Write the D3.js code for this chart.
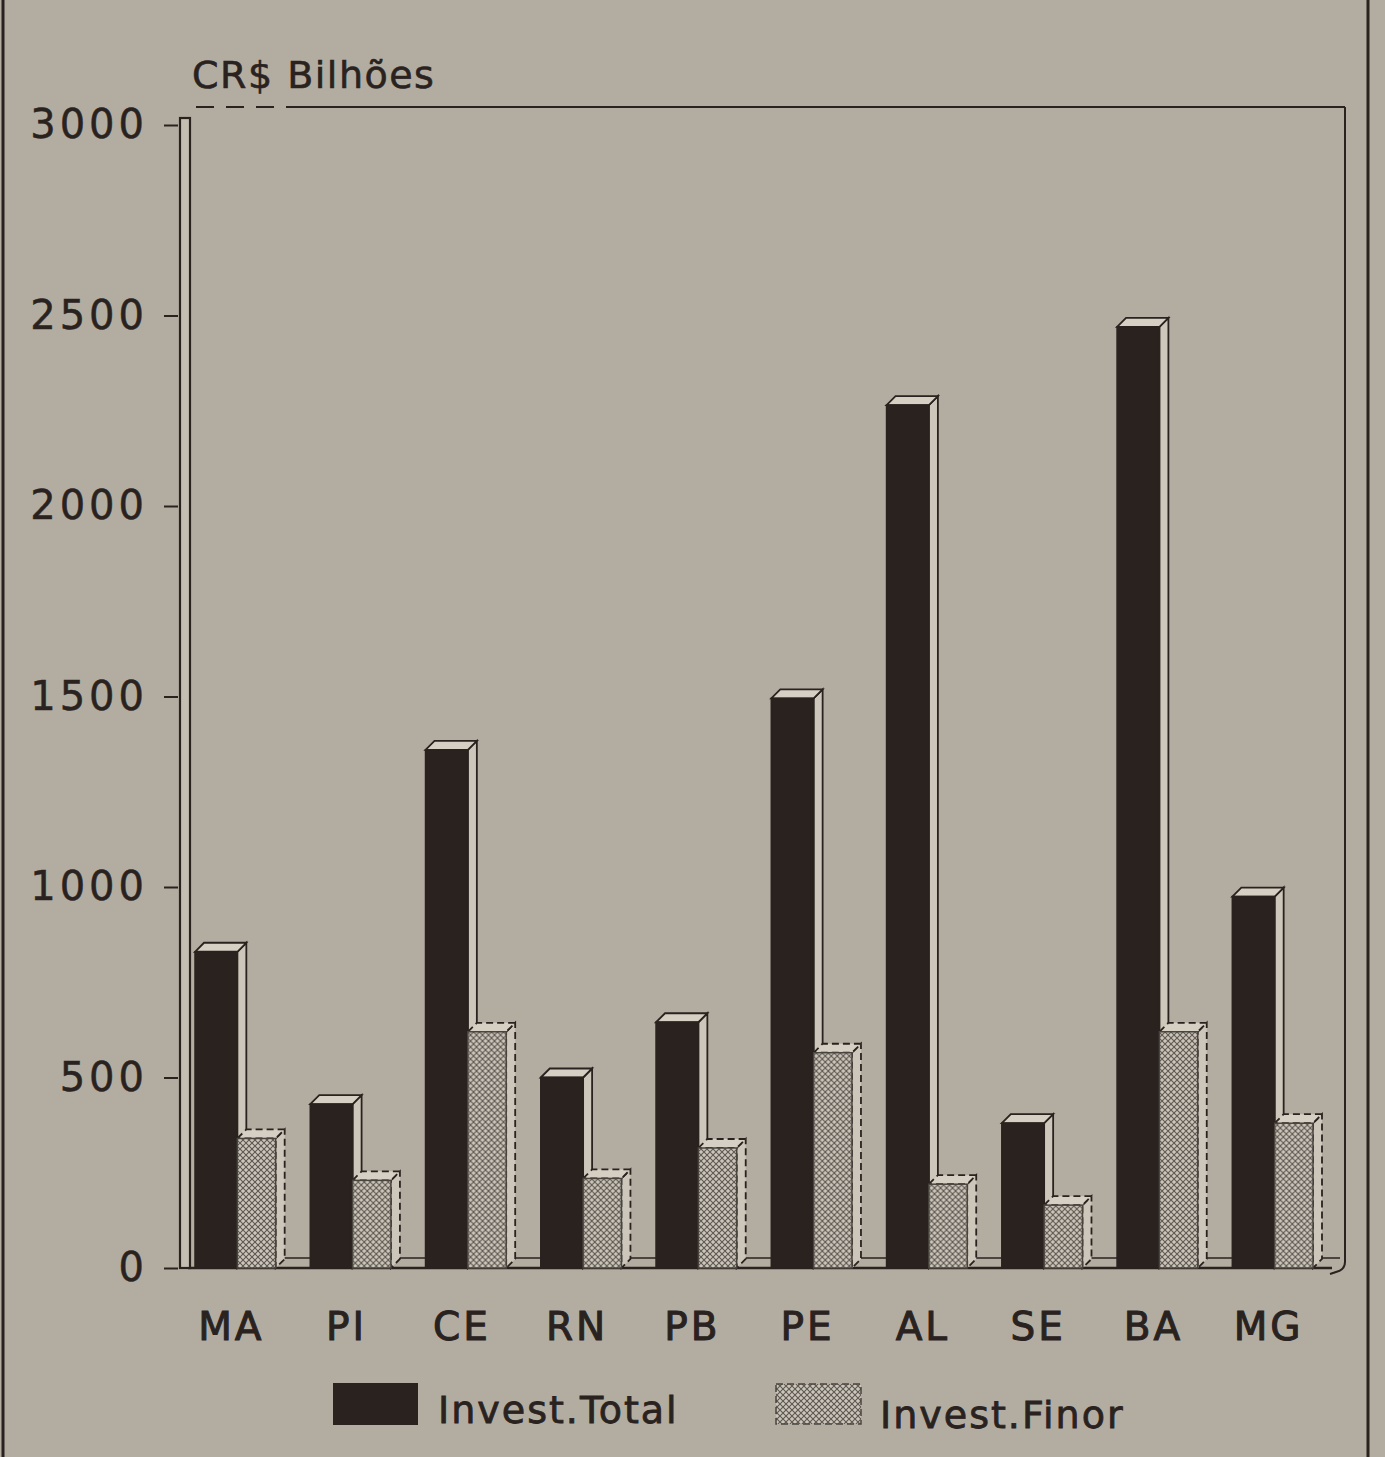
<!DOCTYPE html>
<html>
<head>
<meta charset="utf-8">
<script src="https://cdn.jsdelivr.net/npm/d3@7"></script>
<style>
    body { margin: 0; background: #b3ada1; }
    svg { display: block; }
</style>
</head>
<body>
<div id="chart"></div>
<script>
const categories = ["MA", "PI", "CE", "RN", "PB", "PE", "AL", "SE", "BA", "MG"];
const investTotal = [830, 430, 1360, 500, 645, 1495, 2265, 380, 2470, 975];
const investFinor = [340, 230, 620, 235, 315, 565, 220, 165, 620, 380];
const yTicks = [0, 500, 1000, 1500, 2000, 2500, 3000];
const seriesNames = ["Invest.Total", "Invest.Finor"];
const unitLabel = "CR$ Bilhões";

const width = 1385;
const height = 1457;
const ink = "#29221f";
const paper = "#b3ada1";
const depth = 9; // 3d offset of the bar tops

const svg = d3.select("#chart")
    .append("svg")
    .attr("width", width)
    .attr("height", height);

svg.append("rect")
    .attr("width", width)
    .attr("height", height)
    .attr("fill", paper);

// hatch for the Finor bars
const defs = svg.append("defs");
const pat = defs.append("pattern")
    .attr("id", "hatch")
    .attr("patternUnits", "userSpaceOnUse")
    .attr("width", 6)
    .attr("height", 6);
pat.append("rect").attr("width", 6).attr("height", 6).attr("fill", "#cbc5ba");
pat.append("path")
    .attr("d", "M0,0L6,6M6,0L0,6")
    .attr("stroke", "#5d5751")
    .attr("stroke-width", 1.1);

// page frame
svg.append("line").attr("x1", 3).attr("x2", 3).attr("y1", 0).attr("y2", height)
    .attr("stroke", ink).attr("stroke-width", 3);
svg.append("line").attr("x1", 1368).attr("x2", 1368).attr("y1", 0).attr("y2", height)
    .attr("stroke", ink).attr("stroke-width", 3);

const y = d3.scaleLinear()
    .domain([0, 3000])
    .range([1268, 125]);

const x = d3.scaleBand()
    .domain(categories)
    .range([195, 1313])
    .paddingInner(0.3)
    .paddingOuter(0);

const xSub = d3.scaleBand()
    .domain(seriesNames)
    .range([0, x.bandwidth()]);

// back wall and floor
const wall = svg.append("g").attr("fill", "none").attr("stroke", ink).attr("stroke-width", 2);
wall.append("line").attr("x1", 196).attr("x2", 296).attr("y1", 107).attr("y2", 107)
    .attr("stroke-dasharray", "18,12");
wall.append("line").attr("x1", 296).attr("x2", 1345).attr("y1", 107).attr("y2", 107);
wall.append("path")
    .attr("d", "M1345,107L1345,1262Q1345,1270 1336,1272L1330,1274");
wall.append("line").attr("x1", 198).attr("x2", 1340).attr("y1", y(0) - 10).attr("y2", y(0) - 10)
    .attr("stroke-width", 1.5);
wall.append("line").attr("x1", 188).attr("x2", 1332).attr("y1", y(0)).attr("y2", y(0))
    .attr("stroke-width", 2.5);

// left pillar
svg.append("rect")
    .attr("x", 180).attr("y", 118)
    .attr("width", 10).attr("height", y(0) - 118)
    .attr("fill", "#c4beb2")
    .attr("stroke", ink)
    .attr("stroke-width", 2.2);

// y axis
const yAxis = svg.append("g")
    .attr("transform", "translate(178,0)")
    .call(d3.axisLeft(y).tickValues(yTicks).tickFormat(d3.format("d")).tickSize(14).tickPadding(16));
yAxis.select(".domain").remove();
yAxis.selectAll(".tick line").attr("stroke", ink).attr("stroke-width", 2);
yAxis.selectAll(".tick text")
    .attr("fill", ink)
    .style("font-family", "'DejaVu Sans', sans-serif")
    .style("font-size", "40px")
    .style("letter-spacing", "4px")
    .style("stroke", ink)
    .style("stroke-width", 0.5);

svg.append("text")
    .attr("x", 192)
    .attr("y", 88)
    .attr("fill", ink)
    .style("font-family", "'DejaVu Sans', sans-serif")
    .style("font-size", "38px")
    .style("letter-spacing", "1.5px")
    .style("stroke", ink)
    .style("stroke-width", 0.6)
    .text(unitLabel);

// bars
const groups = svg.append("g")
    .selectAll("g")
    .data(categories)
    .join("g")
    .attr("transform", d => "translate(" + x(d) + ",0)");

function drawBar(g, x0, w, value, fill, dashed) {
    const top = y(value);
    const base = y(0);
    const x1 = x0 + w;
    const faces = g.append("g")
        .attr("stroke", ink)
        .attr("stroke-width", 1.8)
        .attr("stroke-dasharray", dashed ? "7,4" : null);
    faces.append("path")
        .attr("d", "M" + x1 + "," + top + "L" + (x1 + depth) + "," + (top - depth) +
            "L" + (x1 + depth) + "," + (base - depth) + "L" + x1 + "," + base + "Z")
        .attr("fill", "#cdc7bb");
    faces.append("path")
        .attr("d", "M" + x0 + "," + top + "L" + (x0 + depth) + "," + (top - depth) +
            "L" + (x1 + depth) + "," + (top - depth) + "L" + x1 + "," + top + "Z")
        .attr("fill", "#d6d0c4");
    g.append("rect")
        .attr("x", x0)
        .attr("y", top)
        .attr("width", w)
        .attr("height", base - top)
        .attr("fill", fill)
        .attr("stroke", dashed ? "#4a443f" : ink)
        .attr("stroke-width", 1.5);
}

groups.each(function (d, i) {
    const g = d3.select(this);
    drawBar(g, xSub("Invest.Total"), xSub.bandwidth() + 2, investTotal[i], ink, false);
    drawBar(g, xSub("Invest.Finor") + 2, xSub.bandwidth() - 2, investFinor[i], "url(#hatch)", true);
});

// category labels
svg.append("g")
    .selectAll("text")
    .data(categories)
    .join("text")
    .attr("x", d => x(d) + x.bandwidth() / 2 - 4)
    .attr("y", 1340)
    .attr("text-anchor", "middle")
    .attr("fill", ink)
    .style("font-family", "'DejaVu Sans', sans-serif")
    .style("font-size", "39px")
    .style("letter-spacing", "3px")
    .style("stroke", ink)
    .style("stroke-width", 1)
    .text(d => d);

// legend
const legend = svg.append("g");
legend.append("rect")
    .attr("x", 333).attr("y", 1383)
    .attr("width", 85).attr("height", 42)
    .attr("fill", ink);
legend.append("rect")
    .attr("x", 776).attr("y", 1384)
    .attr("width", 85).attr("height", 40)
    .attr("fill", "url(#hatch)")
    .attr("stroke", "#4a443f")
    .attr("stroke-width", 1.5)
    .attr("stroke-dasharray", "7,4");
legend.selectAll("text")
    .data(seriesNames)
    .join("text")
    .attr("x", (d, i) => i === 0 ? 438 : 880)
    .attr("y", (d, i) => i === 0 ? 1423 : 1428)
    .attr("fill", ink)
    .style("font-family", "'DejaVu Sans', sans-serif")
    .style("font-size", "38px")
    .style("letter-spacing", "2px")
    .style("stroke", ink)
    .style("stroke-width", 0.8)
    .text(d => d);
</script>
</body>
</html>
